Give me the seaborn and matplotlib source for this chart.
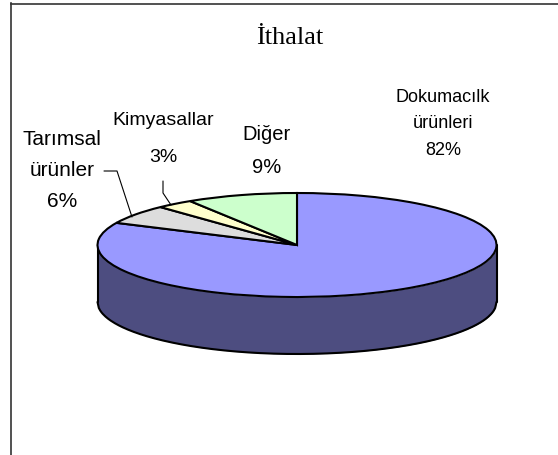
import matplotlib
matplotlib.use("Agg")
import matplotlib.pyplot as plt
import numpy as np
import seaborn as sns

labels = ["Dokumacılk\nürünleri\n82%", "Tarımsal\nürünler\n6%", "Kimyasallar\n3%", "Diğer\n9%"]
values = [82, 6, 3, 9]
top_colors = ["#9999FF", "#DDDDDD", "#FFFFCC", "#CCFFCC"]
side_color = "#4D4D80"
title = "İthalat"

sns.set_theme(style="white")
plt.rcParams["font.family"] = ["Liberation Sans", "DejaVu Sans"]

W, H = 558, 455
fig = plt.figure(figsize=(W / 100, H / 100), dpi=100, facecolor="white")
# frame runs off the right and bottom of the picture
ax = fig.add_axes([11 / W, 0, 1 - 11 / W, 1 - 3.5 / H])

# pixels -> data, one x unit is the pie radius, pie is squashed through the limits
cx, cy, rx, ry = 297, 245, 199.5, 52
depth = 57 / ry

def px(x, y):
    return (x - cx) / rx, (cy - y) / ry

edge = dict(edgecolor="black", linewidth=1.5)

# side of the cylinder first, then the top on it
t = np.linspace(-1, 1, 300)
low = -np.sqrt(1 - t ** 2)
ax.fill_between(t, low - depth, low + 0.0, color=side_color, linewidth=0, zorder=1)
ax.plot(t, low - depth, color="black", lw=1.5, zorder=2)
ax.plot([-1, -1], [0, -depth], color="black", lw=1.5, zorder=2)
ax.plot([1, 1], [0, -depth], color="black", lw=1.5, zorder=2)

wedges, _ = ax.pie(values, colors=top_colors, startangle=90, counterclock=False,
                   radius=1, center=(0, 0), frame=True, wedgeprops=edge)
for w in wedges:
    w.set_zorder(3)

ax.set_xlim((11 - cx) / rx, (W - cx) / rx)
ax.set_ylim((cy - H) / ry, (cy - 3.5) / ry)
ax.set_aspect("auto")
ax.set_xticks([])
ax.set_yticks([])
sns.despine(ax=ax, top=False, right=True, left=False, bottom=True)
for s in ["top", "left"]:
    ax.spines[s].set_color("#333333")
    ax.spines[s].set_linewidth(1.2)

ax.text(*px(290, 38), title, family="Liberation Serif", fontsize=19, color="black",
        ha="center", va="center")

# labels, each with its own size and line spacing
ax.text(*px(443, 124), labels[0], fontsize=13, ha="center", va="center", linespacing=1.74, color="black")
ax.text(*px(62, 171), labels[1], fontsize=15, ha="center", va="center", linespacing=1.8, color="black")
ax.text(*px(163, 139), labels[2], fontsize=14, ha="center", va="center", linespacing=2.5, color="black")
ax.text(*px(267, 151), labels[3], fontsize=14.5, ha="center", va="center", linespacing=1.95, color="black")

# leader lines
for pts in ([(104, 171), (117, 171), (132, 217)], [(163, 181), (163, 193), (171, 205)]):
    xy = [px(*p) for p in pts]
    ax.plot([p[0] for p in xy], [p[1] for p in xy], color="black", lw=0.8, zorder=4)

fig.savefig("out.png", dpi=100, facecolor="white")
